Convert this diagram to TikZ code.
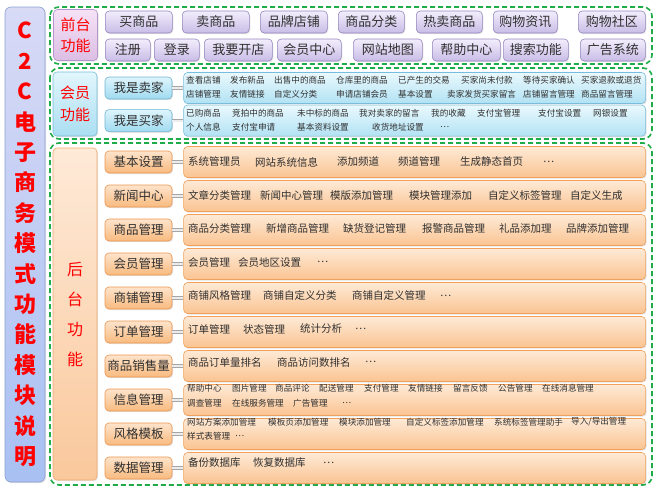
\documentclass[tikz,border=0pt]{standalone}
\usepackage{fontspec}
\setmainfont{Noto Sans CJK SC}
\usetikzlibrary{positioning,shadows}
\definecolor{grn}{RGB}{30,172,72}
\definecolor{txt}{RGB}{48,48,48}
\tikzset{
  grp/.style={draw=grn,line width=1.6pt,dash pattern=on 5pt off 3pt,rounded corners=9pt},
  rbox/.style={draw,rounded corners=4pt,line width=0.6pt,inner sep=0pt,
    drop shadow={opacity=0.22,shadow xshift=1pt,shadow yshift=-1.2pt}},
  ttl/.style={rbox,rounded corners=6pt,draw={rgb,255:red,140;green,160;blue,210},
    top color={rgb,255:red,216;green,218;blue,246},bottom color={rgb,255:red,168;green,192;blue,242},
    minimum width=40pt,minimum height=475pt,text=red,align=center,font=\bfseries\fontsize{22}{30.4}\selectfont},
  hd/.style={rbox,minimum width=44pt,text=red,align=center},
  fhd/.style={hd,draw={rgb,255:red,180;green,150;blue,200},
    top color={rgb,255:red,246;green,226;blue,246},bottom color={rgb,255:red,220;green,190;blue,228},
    minimum height=51pt,font=\fontsize{15}{21}\selectfont},
  mhd/.style={hd,draw={rgb,255:red,120;green,190;blue,215},
    top color={rgb,255:red,226;green,246;blue,252},bottom color={rgb,255:red,170;green,222;blue,242},
    minimum height=64pt,font=\fontsize{15}{22}\selectfont},
  bhd/.style={hd,draw={rgb,255:red,240;green,170;blue,110},
    top color={rgb,255:red,254;green,234;blue,216},bottom color={rgb,255:red,250;green,200;blue,156},
    minimum height=332pt,font=\fontsize{16}{30}\selectfont},
  btn/.style={rbox,anchor=west,draw={rgb,255:red,150;green,135;blue,190},
    top color={rgb,255:red,242;green,238;blue,252},bottom color={rgb,255:red,200;green,188;blue,230},
    minimum height=22pt,text=txt,font=\fontsize{13}{15}\selectfont},
  lbl/.style={rbox,minimum width=67pt,minimum height=22pt,inner xsep=1pt,text=txt,font=\fontsize{12.5}{14}\selectfont},
  mlbl/.style={lbl,draw={rgb,255:red,110;green,180;blue,210},
    top color={rgb,255:red,222;green,245;blue,252},bottom color={rgb,255:red,160;green,218;blue,240}},
  blbl/.style={lbl,draw={rgb,255:red,236;green,150;blue,80},
    top color={rgb,255:red,254;green,228;blue,204},bottom color={rgb,255:red,248;green,186;blue,126}},
  cbox/.style={rbox,minimum width=462pt,minimum height=31pt},
  mbox/.style={cbox,draw={rgb,255:red,120;green,190;blue,220},
    top color={rgb,255:red,234;green,249;blue,253},bottom color={rgb,255:red,178;green,226;blue,244}},
  bbox/.style={cbox,draw={rgb,255:red,240;green,160;blue,90},
    top color={rgb,255:red,254;green,234;blue,214},bottom color={rgb,255:red,250;green,196;blue,146}},
  conn/.style={draw=gray!70,line width=0.8pt,double=gray!15,double distance=2pt},
  sm/.style={anchor=west,inner sep=0pt,text=txt,font=\fontsize{8.6}{10}\selectfont},
  md/.style={anchor=west,inner sep=0pt,text=txt,font=\fontsize{10.5}{12}\selectfont}
}
\begin{document}
\begin{tikzpicture}[x=1pt,y=-1pt]
\useasboundingbox (0,0) rectangle (656,490);
\node[ttl] (ttl) at (25,244.5) {C\\2\\C\\电\\子\\商\\务\\模\\式\\功\\能\\模\\块\\说\\明};

\draw[grp] (50,7) rectangle (652,64);
\node[fhd] (fhd) at (75.5,35) {前台\\功能};
\node[btn,minimum width=67pt] (f1) at (105,22) {买商品};
\node[btn,minimum width=67pt] (f2) at (182,22) {卖商品};
\node[btn,minimum width=67pt] (f3) at (260,22) {品牌店铺};
\node[btn,minimum width=66pt] (f4) at (338,22) {商品分类};
\node[btn,minimum width=66pt] (f5) at (416,22) {热卖商品};
\node[btn,minimum width=64pt] (f6) at (493,22) {购物资讯};
\node[btn,minimum width=67pt] (f7) at (578,22) {购物社区};
\node[btn,minimum width=45pt] (f8) at (105,50) {注册};
\node[btn,minimum width=45pt] (f9) at (154,50) {登录};
\node[btn,minimum width=68pt] (f10) at (204,50) {我要开店};
\node[btn,minimum width=64pt] (f11) at (277,50) {会员中心};
\node[btn,minimum width=69pt] (f12) at (353,50) {网站地图};
\node[btn,minimum width=68pt] (f13) at (432,50) {帮助中心};
\node[btn,minimum width=65pt] (f14) at (503,50) {搜索功能};
\node[btn,minimum width=65pt] (f15) at (580,50) {广告系统};

\draw[grp] (50,68) rectangle (652,139);
\node[mhd] (mhd) at (75,104) {会员\\功能};
\node[mlbl] (m1) at (138.5,88) {我是卖家};
\node[mlbl,below=10pt of m1] (m2) {我是买家};
\node[mbox,right=11pt of m1] (mc1) {};
\node[mbox,right=11pt of m2] (mc2) {};
\draw[conn] (m1) -- (mc1);
\draw[conn] (m2) -- (mc2);
\node[sm] (s1) at (186,80) {查看店铺};
\node[sm] (s2) at (230,80) {发布新品};
\node[sm] (s3) at (274,80) {出售中的商品};
\node[sm] (s4) at (336,80) {仓库里的商品};
\node[sm] (s5) at (398,80) {已产生的交易};
\node[sm] (s6) at (461,80) {买家尚未付款};
\node[sm] (s7) at (523,80) {等待买家确认};
\node[sm] (s8) at (581,80) {买家退款或退货};
\node[sm] (s9) at (186,94) {店铺管理};
\node[sm] (s10) at (230,94) {友情链接};
\node[sm] (s11) at (274,94) {自定义分类};
\node[sm] (s12) at (336,94) {申请店铺会员};
\node[sm] (s13) at (398,94) {基本设置};
\node[sm] (s14) at (447,94) {卖家发货买家留言};
\node[sm] (s15) at (523,94) {店铺留言管理};
\node[sm] (s16) at (581,94) {商品留言管理};
\node[sm] (u1) at (186,113) {已购商品};
\node[sm] (u2) at (232,113) {竞拍中的商品};
\node[sm] (u3) at (297,113) {未中标的商品};
\node[sm] (u4) at (359,113) {我对卖家的留言};
\node[sm] (u5) at (431,113) {我的收藏};
\node[sm] (u6) at (477,113) {支付宝管理};
\node[sm] (u7) at (538,113) {支付宝设置};
\node[sm] (u8) at (593,113) {网银设置};
\node[sm] (u9) at (186,127) {个人信息};
\node[sm] (u10) at (232,127) {支付宝申请};
\node[sm] (u11) at (297,127) {基本资料设置};
\node[sm] (u12) at (372,127) {收货地址设置};
\node[sm] (u13) at (440,127) {…};

\draw[grp] (50,143) rectangle (652,485);
\node[bhd] (bhd) at (75,314) {后\\台\\功\\能};
\node[blbl] (b1) at (138.5,162) {基本设置};
\node[blbl,below=11.4pt of b1] (b2) {新闻中心};
\node[blbl,below=11.4pt of b2] (b3) {商品管理};
\node[blbl,below=11.4pt of b3] (b4) {会员管理};
\node[blbl,below=11.4pt of b4] (b5) {商铺管理};
\node[blbl,below=11.4pt of b5] (b6) {订单管理};
\node[blbl,below=11.4pt of b6] (b7) {商品销售量};
\node[blbl,below=11.4pt of b7] (b8) {信息管理};
\node[blbl,below=11.4pt of b8] (b9) {风格模板};
\node[blbl,below=11.4pt of b9] (b10) {数据管理};
\node[bbox,right=11pt of b1] (c1) {};
\node[bbox,right=11pt of b2] (c2) {};
\node[bbox,right=11pt of b3] (c3) {};
\node[bbox,right=11pt of b4] (c4) {};
\node[bbox,right=11pt of b5] (c5) {};
\node[bbox,right=11pt of b6] (c6) {};
\node[bbox,right=11pt of b7] (c7) {};
\node[bbox,right=11pt of b8] (c8) {};
\node[bbox,right=11pt of b9] (c9) {};
\node[bbox,right=11pt of b10] (c10) {};
\draw[conn] (b1) -- (c1);
\draw[conn] (b2) -- (c2);
\draw[conn] (b3) -- (c3);
\draw[conn] (b4) -- (c4);
\draw[conn] (b5) -- (c5);
\draw[conn] (b6) -- (c6);
\draw[conn] (b7) -- (c7);
\draw[conn] (b8) -- (c8);
\draw[conn] (b9) -- (c9);
\draw[conn] (b10) -- (c10);

\node[md] (r1a) at (188,162) {系统管理员};
\node[md] (r1b) at (255,162) {网站系统信息};
\node[md] (r1c) at (337,162) {添加频道};
\node[md] (r1d) at (398,162) {频道管理};
\node[md] (r1e) at (460,162) {生成静态首页};
\node[md] (r1f) at (543,162) {…};
\node[md] (r2a) at (188,195.4) {文章分类管理};
\node[md] (r2b) at (260,195.4) {新闻中心管理};
\node[md] (r2c) at (330,195.4) {模版添加管理};
\node[md] (r2d) at (409,195.4) {模块管理添加};
\node[md] (r2e) at (488,195.4) {自定义标签管理};
\node[md] (r2f) at (570,195.4) {自定义生成};
\node[md] (r3a) at (188,228.8) {商品分类管理};
\node[md] (r3b) at (266,228.8) {新增商品管理};
\node[md] (r3c) at (343,228.8) {缺货登记管理};
\node[md] (r3d) at (422,228.8) {报警商品管理};
\node[md] (r3e) at (499,228.8) {礼品添加理};
\node[md] (r3f) at (566,228.8) {品牌添加管理};
\node[md] (r4a) at (188,262.2) {会员管理};
\node[md] (r4b) at (238,262.2) {会员地区设置};
\node[md] (r4c) at (317,262.2) {…};
\node[md] (r5a) at (188,295.6) {商铺风格管理};
\node[md] (r5b) at (263,295.6) {商铺自定义分类};
\node[md] (r5c) at (352,295.6) {商铺自定义管理};
\node[md] (r5d) at (440,295.6) {…};
\node[md] (r6a) at (188,329) {订单管理};
\node[md] (r6b) at (243,329) {状态管理};
\node[md] (r6c) at (300,329) {统计分析};
\node[md] (r6d) at (355,329) {…};
\node[md] (r7a) at (188,362.4) {商品订单量排名};
\node[md] (r7b) at (277,362.4) {商品访问数排名};
\node[md] (r7c) at (365,362.4) {…};
\node[sm] (r8a) at (187,388) {帮助中心};
\node[sm] (r8b) at (232,388) {图片管理};
\node[sm] (r8c) at (275,388) {商品评论};
\node[sm] (r8d) at (319,388) {配送管理};
\node[sm] (r8e) at (364,388) {支付管理};
\node[sm] (r8f) at (408,388) {友情链接};
\node[sm] (r8g) at (453,388) {留言反馈};
\node[sm] (r8h) at (498,388) {公告管理};
\node[sm] (r8i) at (542,388) {在线消息管理};
\node[sm] (r8j) at (187,403.5) {调查管理};
\node[sm] (r8k) at (232,403.5) {在线服务管理};
\node[sm] (r8l) at (293,403.5) {广告管理};
\node[sm] (r8m) at (342,403.5) {…};
\node[sm] (r9a) at (187,422) {网站方案添加管理};
\node[sm] (r9b) at (268,422) {模板页添加管理};
\node[sm] (r9c) at (339,422) {模块添加管理};
\node[sm] (r9d) at (406,422) {自定义标签添加管理};
\node[sm] (r9e) at (494,422) {系统标签管理助手};
\node[sm] (r9f) at (571,422) {导入/导出管理};
\node[sm] (r9g) at (187,436.5) {样式表管理};
\node[sm] (r9h) at (235,436.5) {…};
\node[md] (r10a) at (188,462.6) {备份数据库};
\node[md] (r10b) at (253,462.6) {恢复数据库};
\node[md] (r10c) at (323,462.6) {…};
\end{tikzpicture}
\end{document}
